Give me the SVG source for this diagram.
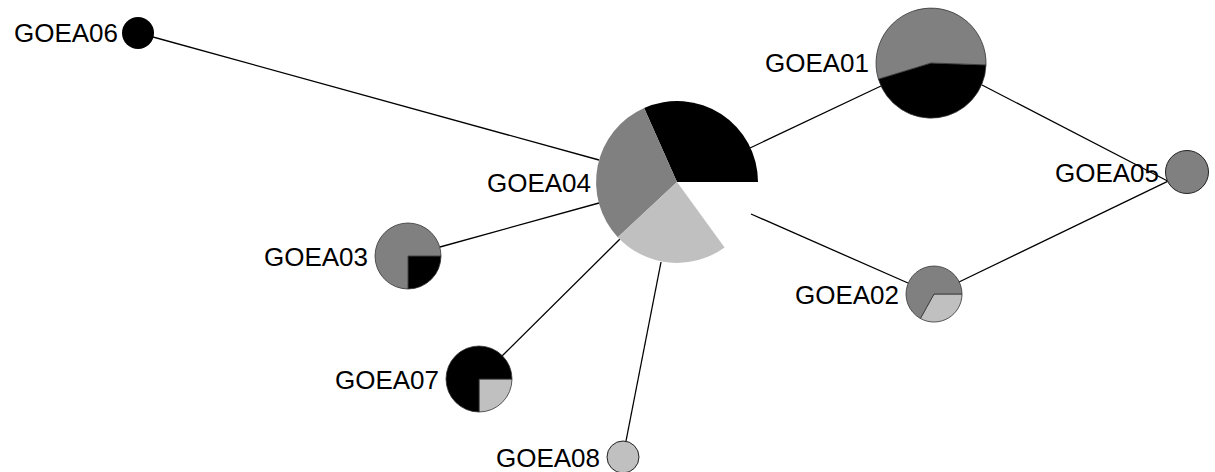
<svg xmlns="http://www.w3.org/2000/svg" width="1215" height="472" viewBox="0 0 1215 472">
<style>
.lbl{font-family:"Liberation Sans",Arial,sans-serif;font-size:26px;fill:#000;text-anchor:end}
.edge{stroke:#000;stroke-width:1.3;fill:none}
.k{fill:#000}
.g{fill:#808080}
.l{fill:#c0c0c0}
.o{stroke:#333;stroke-width:0.8}
</style>
<rect width="1215" height="472" fill="#fff"/>
<g id="connectors">
<line class="edge" x1="153" y1="37" x2="599" y2="160"/>
<line class="edge" x1="750" y1="148" x2="881" y2="86"/>
<line class="edge" x1="982" y1="85" x2="1167.6" y2="181"/>
<line class="edge" x1="1167.6" y1="181.3" x2="959" y2="282"/>
<line class="edge" x1="908" y1="283" x2="751" y2="214"/>
<line class="edge" x1="440" y1="247" x2="599" y2="203"/>
<line class="edge" x1="502" y1="356" x2="620" y2="239"/>
<line class="edge" x1="626" y1="441" x2="661" y2="262"/>
</g>
<g id="GOEA04">
<path class="k" d="M677,182 L644.1,108 A81,81 0 0 1 758,182 Z"/>
<path class="g" d="M677,182 L617.8,237.2 A81,81 0 0 1 644.1,108 Z"/>
<path class="l" d="M677,182 L724.6,247.5 A81,81 0 0 1 617.8,237.2 Z"/>
<text class="lbl" x="591" y="192">GOEA04</text>
</g>
<g id="GOEA01">
<path class="k o" d="M931,63 L986,64.9 A55,55 0 0 1 878.4,79.1 Z"/>
<path class="g o" d="M931,63 L878.4,79.1 A55,55 0 1 1 986,64.9 Z"/>
<text class="lbl" x="869" y="72">GOEA01</text>
</g>
<g id="GOEA03">
<path class="k o" d="M408,256 L441,256 A33,33 0 0 1 408,289 Z"/>
<path class="g o" d="M408,256 L408,289 A33,33 0 1 1 441,256 Z"/>
<text class="lbl" x="368" y="266">GOEA03</text>
</g>
<g id="GOEA02">
<path class="l o" d="M934,294 L962,294 A28,28 0 0 1 920.4,318.5 Z"/>
<path class="g o" d="M934,294 L920.4,318.5 A28,28 0 1 1 962,294 Z"/>
<text class="lbl" x="899" y="304">GOEA02</text>
</g>
<g id="GOEA07">
<path class="l o" d="M479,379 L512,379 A33,33 0 0 1 479,412 Z"/>
<path class="k o" d="M479,379 L479,412 A33,33 0 1 1 512,379 Z"/>
<text class="lbl" x="439" y="389">GOEA07</text>
</g>
<g id="GOEA08">
<circle class="l" cx="623" cy="457" r="16" stroke="#222" stroke-width="1"/>
<text class="lbl" x="600" y="467">GOEA08</text>
</g>
<g id="GOEA05">
<circle class="g" cx="1187" cy="172" r="21.5" stroke="#222" stroke-width="1"/>
<text class="lbl" x="1159" y="182">GOEA05</text>
</g>
<g id="GOEA06">
<circle class="k" cx="138" cy="33" r="16"/>
<text class="lbl" x="118" y="42">GOEA06</text>
</g>
</svg>
